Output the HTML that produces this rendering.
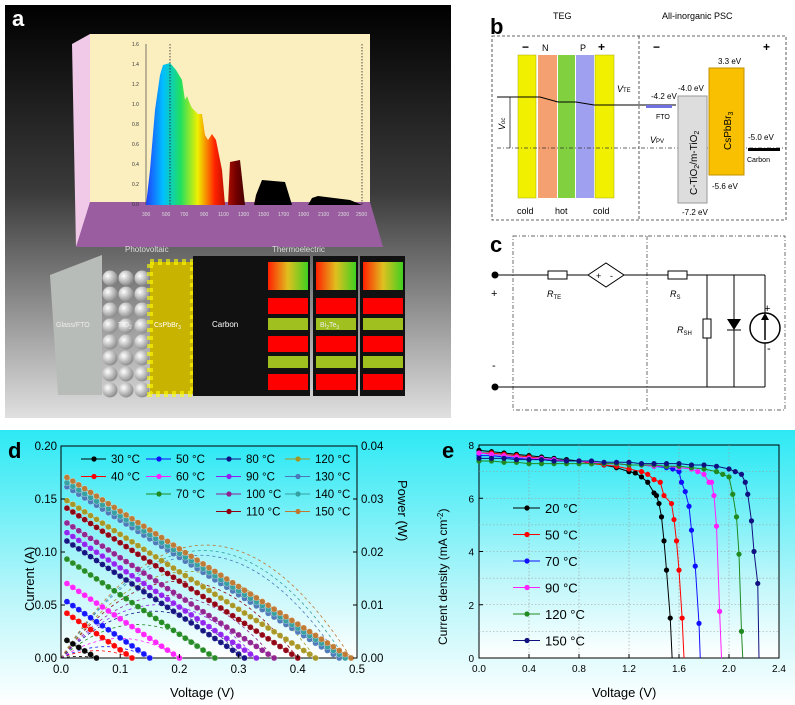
<!DOCTYPE html>
<html><head><meta charset="utf-8"><style>
body{margin:0;background:#fff;}
svg{display:block;font-family:"Liberation Sans",sans-serif;}
</style></head><body>
<svg id="fig" width="795" height="705" viewBox="0 0 795 705">
<defs>
<linearGradient id="bgA" x1="0" y1="0" x2="0" y2="1"><stop offset="0" stop-color="#000"/><stop offset="0.45" stop-color="#3a3a3a"/><stop offset="1" stop-color="#e0e0e0"/></linearGradient>
<linearGradient id="rain" x1="0" y1="0" x2="1" y2="0"><stop offset="0" stop-color="#2040ff"/><stop offset="0.08" stop-color="#00c0ff"/><stop offset="0.16" stop-color="#20e060"/><stop offset="0.24" stop-color="#f0f000"/><stop offset="0.32" stop-color="#ff2000"/><stop offset="0.42" stop-color="#700000"/><stop offset="0.52" stop-color="#000"/><stop offset="1" stop-color="#000"/></linearGradient>
<linearGradient id="cyan" x1="0" y1="0" x2="0" y2="1"><stop offset="0" stop-color="#2de9f4"/><stop offset="0.6" stop-color="#b8f6fa"/><stop offset="1" stop-color="#ffffff"/></linearGradient>
<linearGradient id="teg" x1="0" y1="0" x2="1" y2="0"><stop offset="0" stop-color="#ff2000"/><stop offset="0.5" stop-color="#e0c020"/><stop offset="1" stop-color="#40d020"/></linearGradient>
<radialGradient id="ball" cx="0.35" cy="0.35" r="0.7"><stop offset="0" stop-color="#fff"/><stop offset="1" stop-color="#888"/></radialGradient>
</defs>

<!-- Panel a -->
<g>
<rect x="5" y="5" width="446" height="413" fill="url(#bgA)"/>
<text x="12" y="26" font-size="22" font-weight="bold" fill="#fff">a</text>
<polygon points="72,44 90,34 90,205 76,247" fill="#f0c8e8"/>
<rect x="90" y="34" width="280" height="171" fill="#fbefc0"/>
<polygon points="90,202 370,202 383,247 76,247" fill="#9a5ea0"/>
<line x1="146" y1="44" x2="146" y2="205" stroke="#444" stroke-width="0.7"/>
<g font-size="5" fill="#333">
<text x="132" y="46">1.6</text><text x="132" y="66">1.4</text><text x="132" y="86">1.2</text><text x="132" y="106">1.0</text><text x="132" y="126">0.8</text><text x="132" y="146">0.6</text><text x="132" y="166">0.4</text><text x="132" y="186">0.2</text><text x="132" y="206">0.0</text>
</g>
<polygon points="146,205 150,170 155,110 160,75 163,65 170,63 176,70 182,80 185,100 187,96 190,104 192,108 196,112 198,114 202,114 205,135 208,140 212,134 216,140 222,170 225,205 228,205 230,162 240,160 245,205 254,205 256,195 262,180 285,182 292,205 308,205 312,198 318,196 350,200 362,205" fill="url(#rain)"/>
<line x1="170" y1="44" x2="170" y2="205" stroke="#222" stroke-dasharray="1.5,1.5" stroke-width="0.8"/>
<line x1="362" y1="44" x2="362" y2="205" stroke="#222" stroke-dasharray="1.5,1.5" stroke-width="0.8"/>
<g font-size="5" fill="#ddd">
<text x="142" y="216">300</text><text x="162" y="216">500</text><text x="180" y="216">700</text><text x="200" y="216">900</text><text x="218" y="216">1100</text><text x="238" y="216">1300</text><text x="258" y="216">1500</text><text x="278" y="216">1700</text><text x="298" y="216">1900</text><text x="318" y="216">2100</text><text x="338" y="216">2300</text><text x="356" y="216">2500</text>
</g>
<text x="125" y="252" font-size="8" fill="#ddd">Photovoltaic</text>
<text x="272" y="252" font-size="8" fill="#ddd">Thermoelectric</text>
<polygon points="50,275 102,255 102,395 58,395" fill="#b8bcb8"/>
<text x="56" y="327" font-size="7" fill="#eee">Glass/FTO</text>
<g>
<script>
(function(){var g=document.currentScript.parentNode;var ns='http://www.w3.org/2000/svg';
for(var r=0;r<8;r++)for(var c=0;c<3;c++){var e=document.createElementNS(ns,'circle');e.setAttribute('cx',110+c*16);e.setAttribute('cy',278+r*16);e.setAttribute('r',7.5);e.setAttribute('fill','url(#ball)');


g.appendChild(e);}})();
</script></g>
<text x="118" y="327" font-size="7" fill="#eee">TiO<tspan font-size="5" dy="2">2</tspan></text>
<rect x="150" y="262" width="43" height="132" fill="#c8b400"/>
<rect x="150" y="262" width="43" height="132" fill="none" stroke="#ff0" stroke-dasharray="4,4" stroke-width="6" opacity="0.6"/>
<text x="154" y="327" font-size="7" fill="#fff">CsPbBr<tspan font-size="5" dy="2">3</tspan></text>
<rect x="193" y="256" width="72" height="140" fill="#111"/>
<text x="212" y="327" font-size="8" fill="#fff">Carbon</text>
<g>
<rect x="265" y="256" width="45" height="140" fill="#111"/><rect x="313" y="256" width="45" height="140" fill="#111"/><rect x="360" y="256" width="45" height="140" fill="#111"/>
<rect x="268" y="262" width="40" height="28" fill="url(#teg)"/><rect x="316" y="262" width="40" height="28" fill="url(#teg)"/><rect x="363" y="262" width="40" height="28" fill="url(#teg)"/>
<rect x="268" y="298" width="40" height="16" fill="#f00"/><rect x="316" y="298" width="40" height="16" fill="#f00"/><rect x="363" y="298" width="40" height="16" fill="#f00"/>
<rect x="268" y="318" width="40" height="12" fill="#a0c020"/><rect x="316" y="318" width="40" height="12" fill="#a0c020"/><rect x="363" y="318" width="40" height="12" fill="#a0c020"/>
<rect x="268" y="336" width="40" height="16" fill="#f00"/><rect x="316" y="336" width="40" height="16" fill="#f00"/><rect x="363" y="336" width="40" height="16" fill="#f00"/>
<rect x="268" y="356" width="40" height="12" fill="#a0c020"/><rect x="316" y="356" width="40" height="12" fill="#a0c020"/><rect x="363" y="356" width="40" height="12" fill="#a0c020"/>
<rect x="268" y="374" width="40" height="16" fill="#f00"/><rect x="316" y="374" width="40" height="16" fill="#f00"/><rect x="363" y="374" width="40" height="16" fill="#f00"/>
</g>
<text x="320" y="327" font-size="7" fill="#eee">Bi<tspan font-size="5" dy="2">2</tspan><tspan dy="-2">Te</tspan><tspan font-size="5" dy="2">3</tspan></text>
</g>

<!-- Panel b -->
<g font-size="9">
<text x="490" y="34" font-size="22" font-weight="bold">b</text>
<text x="553" y="19" font-size="9">TEG</text>
<text x="662" y="19" font-size="9">All-inorganic PSC</text>
<rect x="492" y="36" width="294" height="184" fill="none" stroke="#333" stroke-dasharray="3,2" stroke-width="0.8"/>
<line x1="639" y1="36" x2="639" y2="220" stroke="#333" stroke-dasharray="3,2" stroke-width="0.8"/>
<rect x="518" y="55" width="18" height="143" fill="#f0f000" stroke="#aa0" stroke-width="0.5"/>
<rect x="538" y="55" width="19" height="143" fill="#f4a070"/>
<rect x="558" y="55" width="17" height="143" fill="#80d040"/>
<rect x="576" y="55" width="18" height="143" fill="#a0a0f0"/>
<rect x="595" y="55" width="19" height="143" fill="#f0f000" stroke="#aa0" stroke-width="0.5"/>
<text x="522" y="51" font-size="12" font-weight="bold">−</text><text x="542" y="51">N</text><text x="580" y="51">P</text><text x="598" y="51" font-size="12" font-weight="bold">+</text>
<text x="517" y="214">cold</text><text x="555" y="214">hot</text><text x="593" y="214">cold</text>
<polyline points="497,97 540,97 558,102 576,102 594,105 620,105 676,105" fill="none" stroke="#000" stroke-width="1"/>
<line x1="497" y1="148" x2="786" y2="148" stroke="#333" stroke-dasharray="4,2,1,2" stroke-width="0.7"/>
<line x1="510" y1="97" x2="510" y2="148" stroke="#000" stroke-width="0.7"/>
<text x="505" y="130" font-size="9" font-style="italic" transform="rotate(-90 505 130)">V<tspan font-size="6">oc</tspan></text>
<text x="617" y="92" font-style="italic">V<tspan font-size="6" font-style="normal">TE</tspan></text>
<text x="651" y="99" font-size="8">-4.2 eV</text>
<rect x="646" y="105" width="26" height="3" fill="#7070e0"/>
<text x="656" y="119" font-size="7">FTO</text>
<text x="650" y="143" font-style="italic">V<tspan font-size="6" font-style="normal">PV</tspan></text>
<text x="678" y="91" font-size="8">-4.0 eV</text>
<rect x="678" y="96" width="29" height="107" fill="#ddd" stroke="#999"/>
<text x="697" y="195" font-size="10" transform="rotate(-90 697 195)">C-TiO<tspan font-size="7" dy="2">2</tspan><tspan dy="-2">/m-TiO</tspan><tspan font-size="7" dy="2">2</tspan></text>
<text x="682" y="215" font-size="8">-7.2 eV</text>
<rect x="709" y="68" width="35" height="107" fill="#f8c000" stroke="#c09000"/>
<text x="731" y="150" font-size="10" transform="rotate(-90 731 150)">CsPbBr<tspan font-size="7" dy="2">3</tspan></text>
<text x="718" y="64" font-size="8">3.3 eV</text>
<text x="712" y="189" font-size="8">-5.6 eV</text>
<rect x="748" y="148" width="32" height="3" fill="#000"/>
<text x="748" y="140" font-size="8">-5.0 eV</text>
<text x="747" y="162" font-size="7">Carbon</text>
<text x="653" y="51" font-size="12" font-weight="bold">−</text><text x="763" y="51" font-size="12" font-weight="bold">+</text>
</g>

<!-- Panel c -->
<g font-size="9" stroke-width="1">
<text x="490" y="252" font-size="22" font-weight="bold">c</text>
<rect x="513" y="236" width="272" height="174" fill="none" stroke="#333" stroke-dasharray="4,2,1,2" stroke-width="0.7"/>
<line x1="647" y1="236" x2="647" y2="410" stroke="#333" stroke-dasharray="4,2,1,2" stroke-width="0.7"/>
<line x1="495" y1="275" x2="765" y2="275" stroke="#000"/>
<line x1="495" y1="387" x2="765" y2="387" stroke="#000"/>
<circle cx="495" cy="275" r="3.5" fill="#000"/><circle cx="495" cy="387" r="3.5" fill="#000"/>
<text x="491" y="297" font-size="11">+</text><text x="492" y="369" font-size="11">-</text>
<rect x="548" y="271" width="19" height="8" fill="#fff" stroke="#000"/>
<text x="547" y="297" font-style="italic">R<tspan font-size="6" font-style="normal" dy="2">TE</tspan></text>
<polygon points="588,275 606,263 624,275 606,287" fill="#fff" stroke="#000"/>
<text x="596" y="279" font-size="9">+</text><text x="610" y="279" font-size="9">-</text>
<rect x="668" y="271" width="19" height="8" fill="#fff" stroke="#000"/>
<text x="670" y="297" font-style="italic">R<tspan font-size="6" font-style="normal" dy="2">S</tspan></text>
<line x1="707" y1="275" x2="707" y2="387" stroke="#000"/>
<rect x="703" y="319" width="8" height="19" fill="#fff" stroke="#000"/>
<text x="677" y="333" font-style="italic">R<tspan font-size="6" font-style="normal" dy="2">SH</tspan></text>
<line x1="734" y1="275" x2="734" y2="387" stroke="#000"/>
<polygon points="727,319 741,319 734,330" fill="#000"/>
<line x1="727" y1="330" x2="741" y2="330" stroke="#000"/>
<line x1="765" y1="275" x2="765" y2="387" stroke="#000"/>
<circle cx="765" cy="328" r="15" fill="#fff" stroke="#000" stroke-width="1.5"/>
<line x1="765" y1="340" x2="765" y2="318" stroke="#000" stroke-width="1.5"/><polygon points="761,320 769,320 765,313" fill="#000"/>
<text x="764" y="312" font-size="11">+</text><text x="767" y="352" font-size="11">-</text>
</g>

<!-- Panel d -->
<g id="pd">
<rect x="0" y="430" width="414" height="275" fill="url(#cyan)"/>
<rect x="61" y="446" width="296" height="212" fill="url(#cyan)" stroke="#000" stroke-width="1"/>
<text x="8" y="458" font-size="22" font-weight="bold">d</text>
<text x="34" y="611" font-size="13" transform="rotate(-90 34 611)">Current (A)</text>
<text x="398" y="480" font-size="13" transform="rotate(90 398 480)">Power (W)</text>
<text x="170" y="697" font-size="13">Voltage (V)</text>
</g>

<!-- Panel e -->
<g id="pe">
<rect x="414" y="430" width="381" height="275" fill="url(#cyan)"/>
<rect x="479" y="445" width="300" height="213" fill="url(#cyan)" stroke="#000" stroke-width="1"/>
<text x="442" y="458" font-size="22" font-weight="bold">e</text>
<text x="447" y="645" font-size="12" transform="rotate(-90 447 645)">Current density (mA cm<tspan font-size="8" dy="-4">-2</tspan><tspan dy="4">)</tspan></text>
<text x="592" y="697" font-size="13">Voltage (V)</text>
</g>
</svg>
<script>
// ---- Panel d data ----
var dLabels=["30 °C","40 °C","50 °C","60 °C","70 °C","80 °C","90 °C","100 °C","110 °C","120 °C","130 °C","140 °C","150 °C"];
var dIsc=[0.020,0.046,0.057,0.074,0.097,0.114,0.122,0.131,0.145,0.152,0.165,0.169,0.174];
var dVoc=[0.06,0.12,0.15,0.20,0.26,0.31,0.33,0.36,0.40,0.43,0.47,0.48,0.49];
var dColors=["#000","#f00","#1010ff","#ff20ff","#208a20","#101080","#9020f0","#902090","#900010","#a89520","#4a78b8","#35a0a0","#c07830"];
var dXTicks=["0.0","0.1","0.2","0.3","0.4","0.5"];
var dYTicks=["0.00","0.05","0.10","0.15","0.20"];
var dPTicks=["0.00","0.01","0.02","0.03","0.04"];
// ---- Panel e data ----
var eLabels=["20 °C","50 °C","70 °C","90 °C","120 °C","150 °C"];
var eColors=["#000","#f00","#1010ff","#ff20ff","#208a20","#101080"];
var eV=[
[0,0.1,0.2,0.3,0.4,0.5,0.6,0.7,0.8,0.9,1.0,1.1,1.2,1.25,1.3,1.35,1.4,1.42,1.44,1.46,1.48,1.5,1.53,1.545],
[0,0.1,0.2,0.3,0.4,0.5,0.6,0.7,0.8,0.9,1.0,1.1,1.2,1.3,1.35,1.4,1.45,1.48,1.54,1.56,1.58,1.6,1.625,1.64],
[0,0.1,0.2,0.3,0.4,0.5,0.6,0.7,0.8,0.9,1.0,1.1,1.2,1.3,1.4,1.5,1.55,1.6,1.62,1.65,1.68,1.7,1.73,1.76,1.77],
[0,0.1,0.2,0.3,0.4,0.5,0.6,0.7,0.8,0.9,1.0,1.1,1.2,1.3,1.4,1.5,1.6,1.7,1.75,1.8,1.84,1.86,1.88,1.9,1.925,1.94],
[0,0.1,0.2,0.3,0.4,0.5,0.6,0.7,0.8,0.9,1.0,1.1,1.2,1.3,1.4,1.5,1.6,1.7,1.8,1.9,1.95,2.0,2.03,2.06,2.08,2.1,2.11],
[0,0.1,0.2,0.3,0.4,0.5,0.6,0.7,0.8,0.9,1.0,1.1,1.2,1.3,1.4,1.5,1.6,1.7,1.8,1.9,2.0,2.05,2.1,2.13,2.15,2.18,2.2,2.23,2.24]];
var eJ=[
[7.8,7.75,7.7,7.65,7.6,7.55,7.5,7.45,7.4,7.35,7.25,7.15,7.0,6.95,6.8,6.6,6.2,6.1,5.8,5.3,4.4,3.3,1.5,0],
[7.7,7.7,7.65,7.6,7.55,7.5,7.45,7.4,7.4,7.3,7.25,7.2,7.1,7.0,6.9,6.7,6.6,6.1,5.8,5.2,4.4,3.3,1.5,0],
[7.6,7.6,7.55,7.5,7.5,7.45,7.45,7.4,7.4,7.35,7.3,7.3,7.25,7.25,7.2,7.15,7.1,7.0,6.6,6.25,5.7,4.8,3.45,1.3,0],
[7.7,7.65,7.6,7.55,7.5,7.5,7.45,7.4,7.4,7.35,7.3,7.3,7.25,7.25,7.2,7.2,7.15,7.1,7.0,6.9,6.6,6.6,6.1,4.95,1.75,0],
[7.4,7.4,7.35,7.35,7.3,7.3,7.3,7.3,7.3,7.3,7.3,7.3,7.25,7.25,7.25,7.2,7.2,7.15,7.1,7.0,6.9,6.8,6.15,5.3,3.9,1.0,0],
[7.5,7.5,7.5,7.45,7.45,7.45,7.4,7.4,7.4,7.4,7.35,7.35,7.35,7.3,7.3,7.3,7.3,7.25,7.25,7.2,7.1,7.0,6.9,6.6,6.15,5.15,4.0,2.8,0]];
var eXTicks=["0.0","0.4","0.8","1.2","1.6","2.0","2.4"];
var eYTicks=["0","2","4","6","8"];

var NS='http://www.w3.org/2000/svg';
function mk(p,t,a){var e=document.createElementNS(NS,t);for(var k in a)e.setAttribute(k,a[k]);p.appendChild(e);return e;}
function dx(v){return 61+v/0.5*296;}
function dy(v){return 658-v/0.2*212;}
function dpy(v){return 658-v/0.04*212;}
var pd=document.getElementById('pd');
for(var i=0;i<dIsc.length;i++){var pts=[];for(var s=0;s<=40;s++){var v=dVoc[i]*s/40;var I=dIsc[i]*(1-v/dVoc[i]);pts.push(dx(v)+','+dpy(v*I));}
var pl=mk(pd,'polyline',{points:pts.join(' '),fill:'none',stroke:dColors[i],'stroke-width':0.8,'stroke-dasharray':'3,3'});

}
for(var i=0;i<dIsc.length;i++){
var ln=mk(pd,'line',{x1:dx(0.01),y1:dy(dIsc[i]*(1-0.01/dVoc[i])),x2:dx(dVoc[i]),y2:dy(0),stroke:dColors[i],'stroke-width':1});


for(var v=0.01;v<=dVoc[i]+1e-6;v+=0.01){var c=mk(pd,'circle',{cx:dx(v),cy:dy(dIsc[i]*(1-v/dVoc[i])),r:3,fill:dColors[i],stroke:'#fff','stroke-width':0.3,opacity:0.95});

}}
for(var k=0;k<dXTicks.length;k++){var x=dx(k*0.1);mk(pd,'line',{x1:x,y1:658,x2:x,y2:654,stroke:'#000'});
var t=mk(pd,'text',{x:x,y:673,'font-size':11.5,'text-anchor':'middle'});t.textContent=dXTicks[k];

}
for(var k=0;k<dYTicks.length;k++){var y=dy(k*0.05);mk(pd,'line',{x1:61,y1:y,x2:65,y2:y,stroke:'#000'});mk(pd,'line',{x1:357,y1:y,x2:353,y2:y,stroke:'#000'});
var t=mk(pd,'text',{x:57,y:y+4,'font-size':11.5,'text-anchor':'end'});t.textContent=dYTicks[k];


var t2=mk(pd,'text',{x:361,y:dpy(k*0.01)+4,'font-size':11.5});t2.textContent=dPTicks[k];

}
for(var i=0;i<dLabels.length;i++){var col,row;
if(i<2){col=0;row=i;}else if(i<4){col=1;row=i-2;}else if(i<5){col=1;row=2;}else if(i<9){col=2;row=i-5;}else{col=3;row=i-9;}
var lx=[81,146,216,285][col],ly=459+row*17.5;
var g=mk(pd,'g',{});


mk(g,'line',{x1:lx,y1:ly,x2:lx+25,y2:ly,stroke:dColors[i]});mk(g,'circle',{cx:lx+13,cy:ly,r:2.6,fill:dColors[i]});
var t=mk(g,'text',{x:lx+30,y:ly+4,'font-size':11.5});t.textContent=dLabels[i];}

function ex(v){return 479+v/2.4*300;}
function ey(v){return 658-v/8*213;}
var pe=document.getElementById('pe');
for(var k=1;k<6;k++){var x=ex(k*0.4);mk(pe,'line',{x1:x,y1:445,x2:x,y2:658,stroke:'#999','stroke-dasharray':'1.5,2','stroke-width':0.6});}
for(var k=1;k<8;k++){var y=ey(k);mk(pe,'line',{x1:479,y1:y,x2:779,y2:y,stroke:'#999','stroke-dasharray':'1.5,2','stroke-width':0.6});}
for(var i=0;i<eV.length;i++){var pts=[];for(var j=0;j<eV[i].length;j++)pts.push(ex(eV[i][j])+','+ey(eJ[i][j]));
var pl=mk(pe,'polyline',{points:pts.join(' '),fill:'none',stroke:eColors[i],'stroke-width':1});


for(var j=0;j<eV[i].length-1;j++){var c=mk(pe,'circle',{cx:ex(eV[i][j]),cy:ey(eJ[i][j]),r:2.6,fill:eColors[i]});

}}
for(var k=0;k<eXTicks.length;k++){var x=ex(k*0.4);mk(pe,'line',{x1:x,y1:658,x2:x,y2:654,stroke:'#000'});
var t=mk(pe,'text',{x:x,y:672,'font-size':10,'text-anchor':'middle'});t.textContent=eXTicks[k];

}
for(var k=0;k<eYTicks.length;k++){var y=ey(k*2);mk(pe,'line',{x1:479,y1:y,x2:483,y2:y,stroke:'#000'});
var t=mk(pe,'text',{x:474,y:y+4,'font-size':10,'text-anchor':'end'});t.textContent=eYTicks[k];

}
for(var i=0;i<eLabels.length;i++){var ly=508+i*26.5;var g=mk(pe,'g',{});


mk(g,'line',{x1:513,y1:ly,x2:540,y2:ly,stroke:eColors[i]});mk(g,'circle',{cx:527,cy:ly,r:2.6,fill:eColors[i]});
var t=mk(g,'text',{x:545,y:ly+5,'font-size':13});t.textContent=eLabels[i];}
</script>
</body></html>
